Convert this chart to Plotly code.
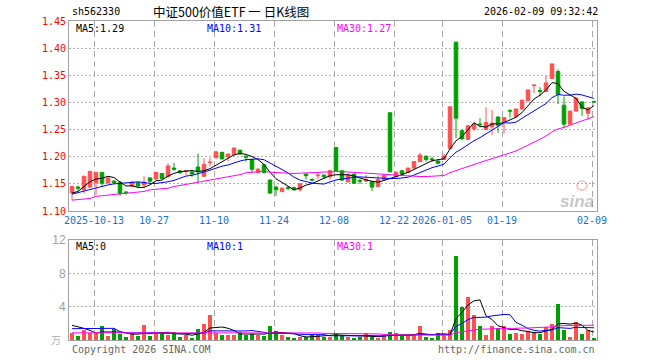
import plotly.graph_objects as go
import pandas as pd
import numpy as np

# ---------------- data ----------------
holidays = ["2025-10-01", "2025-10-02", "2025-10-03", "2025-10-06", "2025-10-07",
            "2025-10-08", "2026-01-01", "2026-01-02"]
dates = [d.strftime("%Y-%m-%d") for d in pd.bdate_range("2025-09-29", "2026-02-09")
         if d.strftime("%Y-%m-%d") not in holidays]

opens = [1.133, 1.144, 1.139, 1.144, 1.152, 1.171, 1.152, 1.155, 1.153, 1.135,
         1.146, 1.152, 1.148, 1.161, 1.159, 1.169, 1.163, 1.179, 1.174, 1.173,
         1.172, 1.181, 1.164, 1.189, 1.198, 1.208, 1.200, 1.204, 1.212, 1.201,
         1.195, 1.171, 1.185, 1.157, 1.144, 1.136, 1.143, 1.143, 1.139, 1.168,
         1.158, 1.165, 1.166, 1.163, 1.217, 1.174, 1.154, 1.168, 1.156, 1.155,
         1.154, 1.145, 1.158, 1.281, 1.163, 1.174, 1.171, 1.179, 1.191, 1.201,
         1.196, 1.192, 1.195, 1.215, 1.411, 1.248, 1.232, 1.251, 1.260, 1.250,
         1.255, 1.273, 1.265, 1.285, 1.274, 1.288, 1.303, 1.331, 1.322, 1.320,
         1.344, 1.357, 1.295, 1.260, 1.284, 1.301, 1.280, 1.302]
highs = [1.146, 1.147, 1.165, 1.174, 1.172, 1.172, 1.162, 1.157, 1.155, 1.137,
         1.155, 1.153, 1.164, 1.162, 1.172, 1.170, 1.188, 1.189, 1.175, 1.176,
         1.173, 1.206, 1.197, 1.198, 1.210, 1.209, 1.206, 1.217, 1.213, 1.202,
         1.196, 1.179, 1.186, 1.158, 1.146, 1.143, 1.146, 1.145, 1.152, 1.169,
         1.160, 1.170, 1.168, 1.176, 1.218, 1.176, 1.170, 1.169, 1.159, 1.166,
         1.155, 1.165, 1.167, 1.282, 1.174, 1.176, 1.180, 1.192, 1.207, 1.202,
         1.200, 1.193, 1.205, 1.292, 1.412, 1.249, 1.258, 1.262, 1.271, 1.291,
         1.286, 1.275, 1.273, 1.288, 1.288, 1.305, 1.324, 1.332, 1.328, 1.349,
         1.371, 1.361, 1.311, 1.285, 1.308, 1.302, 1.291, 1.302]
lows = [1.120, 1.137, 1.132, 1.142, 1.130, 1.145, 1.150, 1.150, 1.128, 1.130,
        1.144, 1.144, 1.143, 1.152, 1.158, 1.158, 1.162, 1.174, 1.168, 1.166,
        1.163, 1.153, 1.163, 1.182, 1.197, 1.195, 1.191, 1.203, 1.204, 1.191,
        1.171, 1.169, 1.169, 1.131, 1.128, 1.134, 1.138, 1.138, 1.136, 1.158,
        1.155, 1.158, 1.160, 1.158, 1.172, 1.155, 1.152, 1.150, 1.150, 1.154,
        1.137, 1.144, 1.157, 1.172, 1.162, 1.166, 1.170, 1.178, 1.190, 1.191,
        1.190, 1.186, 1.194, 1.214, 1.234, 1.231, 1.231, 1.248, 1.254, 1.249,
        1.240, 1.244, 1.243, 1.272, 1.272, 1.287, 1.302, 1.317, 1.311, 1.319,
        1.344, 1.297, 1.252, 1.259, 1.283, 1.275, 1.268, 1.299]
closes = [1.145, 1.142, 1.164, 1.173, 1.171, 1.151, 1.161, 1.152, 1.132, 1.134,
          1.153, 1.146, 1.153, 1.155, 1.171, 1.160, 1.183, 1.177, 1.171, 1.174,
          1.168, 1.172, 1.186, 1.190, 1.209, 1.196, 1.205, 1.216, 1.205, 1.199,
          1.177, 1.177, 1.171, 1.133, 1.139, 1.142, 1.142, 1.139, 1.150, 1.165,
          1.157, 1.166, 1.163, 1.174, 1.174, 1.157, 1.166, 1.151, 1.155, 1.158,
          1.144, 1.158, 1.166, 1.172, 1.171, 1.168, 1.179, 1.191, 1.203, 1.195,
          1.195, 1.188, 1.201, 1.292, 1.271, 1.233, 1.257, 1.260, 1.2595, 1.263,
          1.262, 1.258, 1.272, 1.284, 1.288, 1.304, 1.323, 1.332, 1.320, 1.336,
          1.371, 1.315, 1.260, 1.284, 1.308, 1.289, 1.290, 1.301]
volumes = [0.80, 0.44, 1.16, 0.84, 0.76, 1.64, 0.44, 1.28, 0.68, 0.32,
           0.80, 0.44, 1.76, 0.44, 0.90, 0.88, 0.64, 0.95, 0.42, 0.62,
           0.22, 1.35, 1.95, 3.05, 0.85, 0.60, 0.60, 0.60, 1.00, 0.60,
           0.76, 0.64, 0.50, 1.64, 1.08, 0.64, 0.36, 0.16, 0.32, 0.36,
           0.76, 0.64, 0.40, 0.40, 0.88, 0.56, 0.40, 0.20, 0.40, 0.80,
           0.36, 0.28, 0.56, 0.92, 0.84, 0.48, 0.48, 0.48, 1.64, 0.40,
           0.20, 0.80, 0.56, 1.16, 10.10, 4.00, 5.20, 3.05, 1.70, 0.64,
           1.70, 1.45, 1.72, 0.76, 0.84, 0.76, 1.04, 1.00, 0.76, 1.62,
           1.96, 4.38, 1.18, 0.40, 2.20, 0.76, 1.24, 0.16]

ma5_head = [1.133, 1.136, 1.145, 1.154]
ma10_head = [1.131, 1.134, 1.137, 1.140, 1.143, 1.146, 1.148, 1.150, 1.151]
ma30_head = [1.120, 1.121, 1.122, 1.123, 1.127, 1.128, 1.129, 1.130, 1.131, 1.132,
             1.133, 1.134, 1.136, 1.139, 1.140, 1.141, 1.142, 1.145, 1.147, 1.149,
             1.151, 1.153, 1.155, 1.157, 1.159, 1.161, 1.163, 1.165, 1.167]
vma5_head = [1.76, 1.60, 1.40, 1.16]
vma10_head = [1.36, 1.36, 1.36, 1.36, 1.36, 1.40, 1.40, 1.40, 1.00]
vma30_head = [0.86, 0.86, 0.86, 0.86, 0.86, 0.86, 0.86, 0.86, 0.86, 0.86,
              0.86, 0.86, 0.90, 0.90, 0.90, 0.90, 0.90, 0.90, 0.90, 0.90,
              0.90, 0.92, 0.92, 0.92, 0.92, 0.92, 0.92, 0.92, 0.92]

tick_dates = ["2025-10-13", "2025-10-27", "2025-11-10", "2025-11-24", "2025-12-08",
              "2025-12-22", "2026-01-05", "2026-01-19", "2026-02-09"]
tick_text = ["2025-10-13", "10-27", "11-10", "11-24", "12-08",
             "12-22", "2026-01-05", "01-19", "02-09"]
price_ticks = [1.10, 1.15, 1.20, 1.25, 1.30, 1.35, 1.40, 1.45]
vol_ticks = [4, 8, 12]

title_text = "中证500价值ETF 一 日K线图"
code_text = "sh562330"
time_text = "2026-02-09 09:32:42"
ma_labels = ["MA5:1.29", "MA10:1.31", "MA30:1.27"]
vma_labels = ["MA5:0", "MA10:1", "MA30:1"]


def moving_avg(values, n, head):
    s = pd.Series(values).rolling(n).mean().to_numpy()
    s[:n - 1] = head
    return s


ma5 = moving_avg(closes, 5, ma5_head)
ma10 = moving_avg(closes, 10, ma10_head)
ma30 = moving_avg(closes, 30, ma30_head)
vma5 = moving_avg(volumes, 5, vma5_head)
vma10 = moving_avg(volumes, 10, vma10_head)
vma30 = moving_avg(volumes, 30, vma30_head)

# ---------------- figure ----------------
RED = "#FF5050"
GREEN = "#00A000"
MONO = "DejaVu Sans Mono"
idx = np.arange(len(dates))
n = len(dates)

fig = go.Figure()
fig.add_trace(go.Candlestick(
    x=idx, open=opens, high=highs, low=lows, close=closes,
    increasing=dict(line=dict(color=RED, width=1), fillcolor=RED),
    decreasing=dict(line=dict(color=GREEN, width=1), fillcolor=GREEN),
    whiskerwidth=0, xaxis="x", yaxis="y", hoverinfo="skip"))

for vals, col in [(ma5, "#000000"), (ma10, "#0000FF"), (ma30, "#FF00FF")]:
    fig.add_trace(go.Scatter(x=idx, y=vals, mode="lines", line=dict(color=col, width=1),
                             xaxis="x", yaxis="y", hoverinfo="skip"))

vcolors = [RED if c >= o else GREEN for o, c in zip(opens, closes)]
fig.add_trace(go.Bar(x=idx, y=volumes, marker=dict(color=vcolors, line=dict(width=0)),
                     width=0.8, xaxis="x2", yaxis="y2", hoverinfo="skip"))
for vals, col in [(vma5, "#000000"), (vma10, "#0000FF"), (vma30, "#FF00FF")]:
    fig.add_trace(go.Scatter(x=idx, y=vals, mode="lines", line=dict(color=col, width=1),
                             xaxis="x2", yaxis="y2", hoverinfo="skip"))

tickpos = [dates.index(d) - 1 / 3 for d in tick_dates]

L, R, T, B = 69, 63, 21, 20
W, H = 660, 360
PW, PH = W - L - R, H - T - B


def px(xp):
    return (xp - L) / PW


def py(yp):
    return (H - B - yp) / PH


frame = dict(showline=True, mirror=True, linecolor="#A0A0A0", linewidth=1, zeroline=False)

fig.update_layout(
    width=W, height=H, margin=dict(l=L, r=R, t=T, b=B),
    paper_bgcolor="white", plot_bgcolor="white", showlegend=False,
    boxgap=0.15, bargap=0,
    xaxis=dict(domain=[0, 1], anchor="y", range=[-0.5, n - 0.5],
               tickvals=tickpos, ticktext=tick_text, ticks="",
               tickfont=dict(family=MONO, size=10, color="#1873C8"),
               showgrid=True, gridcolor="#A8A8A8", griddash="6px,4px", gridwidth=1,
               rangeslider=dict(visible=False), **frame),
    yaxis=dict(domain=[py(211), 1], anchor="x", range=[1.10, 1.45],
               tickvals=price_ticks, ticktext=[f"{v:.2f}" for v in price_ticks], ticks="",
               tickfont=dict(family=MONO, size=10, color="#FF0000"),
               showgrid=True, gridcolor="#B0B0B0", griddash="2px,2px", gridwidth=1,
               **frame),
    xaxis2=dict(domain=[0, 1], anchor="y2", range=[-0.5, n - 0.5],
                tickvals=tickpos, showticklabels=False, ticks="",
                showgrid=True, gridcolor="#A8A8A8", griddash="6px,4px", gridwidth=1,
                **frame),
    yaxis2=dict(domain=[0, py(240)], anchor="x2", range=[0, 12],
                tickvals=vol_ticks, ticktext=[str(v) for v in vol_ticks], ticks="",
                tickfont=dict(family="Liberation Sans", size=12, color="#A0A0A0"),
                showgrid=True, gridcolor="#B0B0B0", griddash="2px,2px", gridwidth=1,
                **frame),
)

ann = []


def text(x, y, s, color="#000000", size=10, family=MONO, xanchor="left", **kw):
    ann.append(dict(x=px(x), y=py(y), xref="paper", yref="paper", text=s, showarrow=False,
                    xanchor=xanchor, yanchor="middle",
                    font=dict(family=family, size=size, color=color), **kw))


text(70, 12, code_text)
text(151, 11, title_text, size=12.5, family="Noto Sans CJK SC")
text(600, 12, time_text, xanchor="right")
for s, x, col in zip(ma_labels, [74, 205, 335], ["#000000", "#0000FF", "#FF00FF"]):
    text(x, 28, s, color=col)
for s, x, col in zip(vma_labels, [74, 205, 335], ["#000000", "#0000FF", "#FF00FF"]):
    text(x, 246, s, color=col)
text(70, 349, "Copyright 2026 SINA.COM", color="#666666")
text(597, 349, "http://finance.sina.com.cn", color="#666666", xanchor="right")
text(63, 339, "万", color="#B0B0B0", size=10, family="Noto Sans CJK SC", xanchor="right")
text(596, 201, "<b><i>sina</i></b>", color="rgba(150,150,150,0.55)", size=17,
     family="Liberation Sans", xanchor="right")
fig.update_layout(annotations=ann)
fig.add_shape(type="circle", xref="paper", yref="paper",
              x0=px(577), x1=px(587), y0=py(190), y1=py(181),
              line=dict(color="rgba(240,120,120,0.5)", width=1.5))

fig.write_html("out.html")
